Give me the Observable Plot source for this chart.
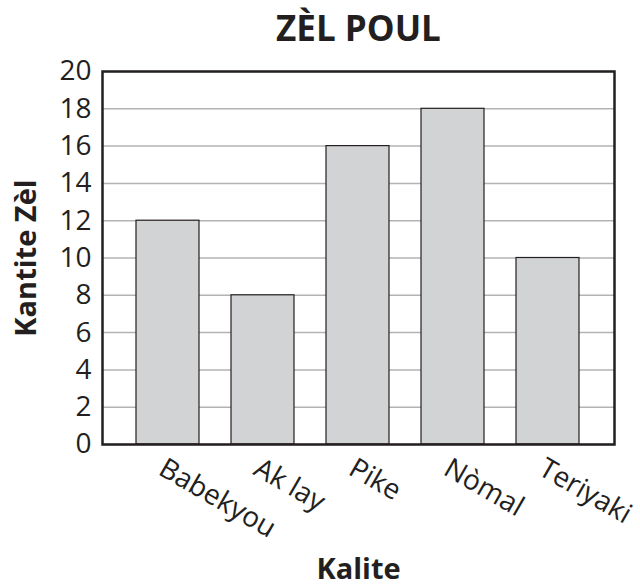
<!DOCTYPE html>
<html>
<head>
<meta charset="utf-8">
<script src="https://cdn.jsdelivr.net/npm/d3@7"></script>
<script src="https://cdn.jsdelivr.net/npm/@observablehq/plot@0.6"></script>
<style>
  body { margin: 0; background: #fff; }
</style>
</head>
<body>
<div id="chart"></div>
<script>
const categories = ["Babekyou", "Ak lay", "Pike", "Nòmal", "Teriyaki"];
const counts = [12, 8, 16, 18, 10];
const yTicks = [0, 2, 4, 6, 8, 10, 12, 14, 16, 18, 20];
const title = "ZÈL POUL";
const xLabel = "Kalite";
const yLabel = "Kantite Zèl";

const data = categories.map((c, i) => ({ kalite: c, kantite: counts[i] }));

const chart = Plot.plot({
  width: 640,
  height: 586,
  marginLeft: 102,
  marginRight: 26,
  marginTop: 71,
  marginBottom: 142,
  style: { fontFamily: "'Open Sans', sans-serif", fontSize: "28px", color: "#231f20", background: "#fff", overflow: "visible" },
  x: { domain: categories, paddingInner: 1/3, paddingOuter: 1/3, axis: null },
  y: { domain: [0, 20], axis: null },
  marks: [
    Plot.gridY(yTicks, { stroke: "#b3b3b3", strokeOpacity: 1, strokeWidth: 1.5 }),
    Plot.barY(data, { x: "kalite", y: "kantite", fill: "#d1d3d4", stroke: "#231f20", strokeWidth: 1.2 }),
    Plot.text(yTicks, { y: d => d, frameAnchor: "left", textAnchor: "end", lineAnchor: "middle", dx: -11, fontSize: 28, fill: "#231f20" }),
    Plot.text(categories, { x: d => d, frameAnchor: "bottom", textAnchor: "start", lineAnchor: "top", rotate: 30, dx: -1, dy: 12, fontSize: 28, fill: "#231f20" }),
    Plot.frame({ stroke: "#231f20", strokeWidth: 2.5 }),
    Plot.text([title], { frameAnchor: "top", lineAnchor: "middle", dy: -42, fontSize: 35, fontWeight: "bold", fill: "#231f20" }),
    Plot.text([xLabel], { frameAnchor: "bottom", lineAnchor: "middle", dy: 125, fontSize: 29, fontWeight: "bold", fill: "#231f20" }),
    Plot.text([yLabel], { frameAnchor: "left", textAnchor: "middle", lineAnchor: "middle", dx: -76, rotate: -90, fontSize: 29, fontWeight: "bold", fill: "#231f20" })
  ]
});
document.getElementById("chart").appendChild(chart);
</script>
</body>
</html>
